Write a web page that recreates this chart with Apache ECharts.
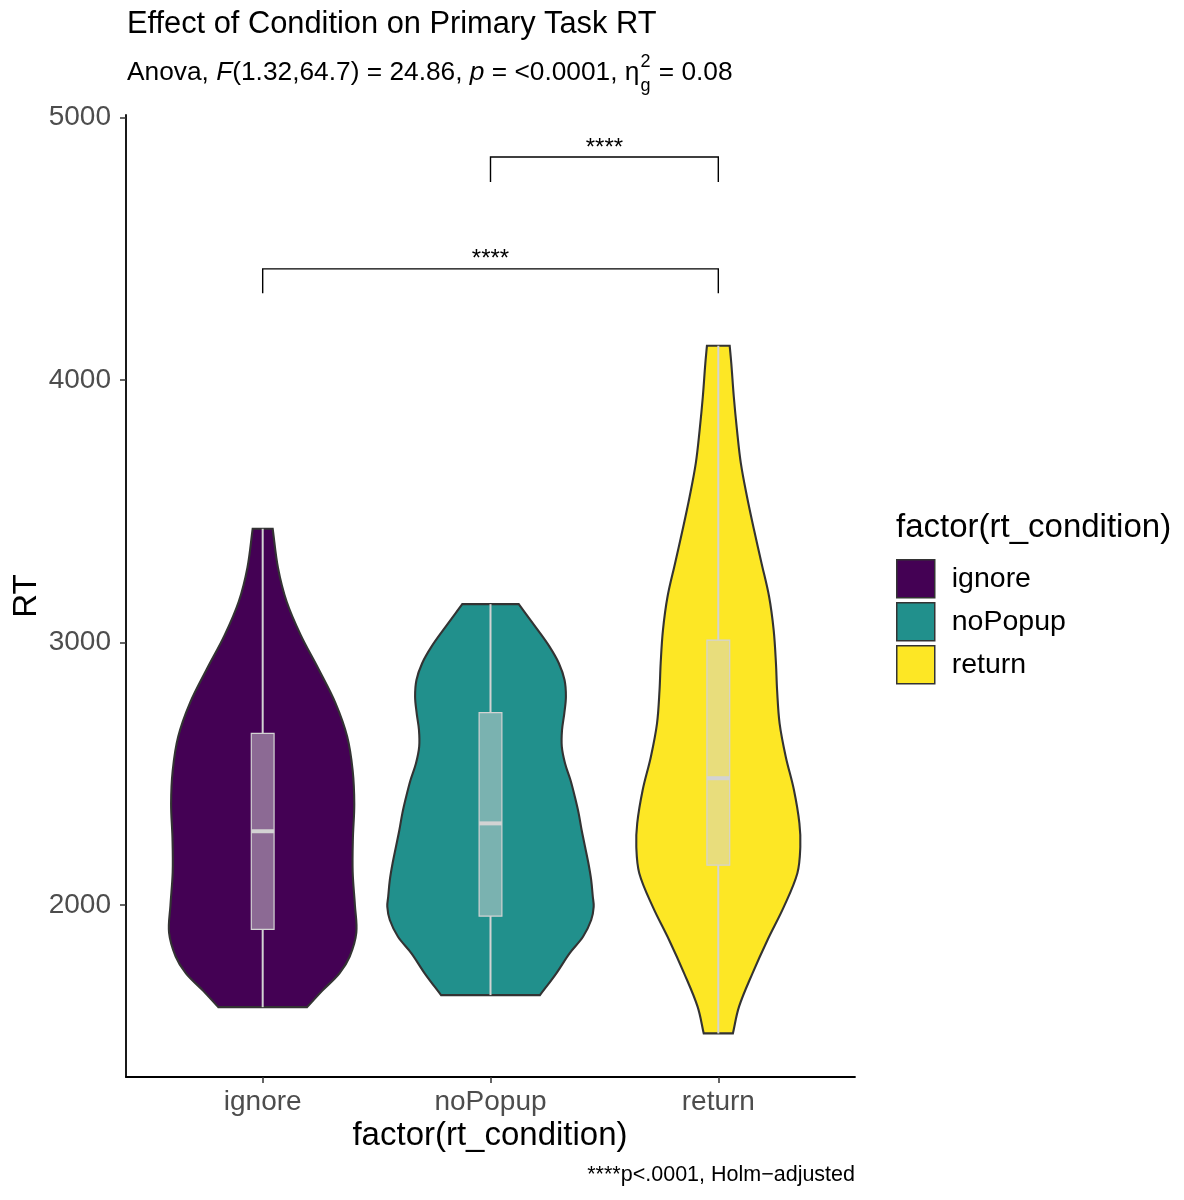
<!DOCTYPE html>
<html><head><meta charset="utf-8">
<script src="https://cdn.jsdelivr.net/npm/echarts@6/dist/echarts.min.js"></script>
<style>html,body{margin:0;padding:0;background:#fff}#c{width:1184px;height:1200px}</style>
</head><body><div id="c"></div>
<script>
// ---------------- data ----------------
const categories = ['ignore', 'noPopup', 'return'];
const fillColors = ['#440154', '#21908C', '#FDE725'];
const yTicks = [2000, 3000, 4000, 5000];

// violin outlines: RT value and half-width (in category units)
const ignoreRT = [3433, 3285, 3156, 3028, 2899, 2770, 2641, 2512, 2384, 2255, 2126, 1997, 1895, 1804, 1740, 1675, 1611];
const ignoreHalfWidth = [0.044, 0.067, 0.105, 0.167, 0.245, 0.319, 0.371, 0.395, 0.402, 0.396, 0.395, 0.405, 0.411, 0.382, 0.337, 0.263, 0.195];

const noPopupRT = [3146, 3047, 2984, 2921, 2857, 2793, 2730, 2667, 2603, 2540, 2476, 2413, 2349, 2286, 2222, 2158, 2095, 2032, 1994, 1943, 1879, 1816, 1740, 1657];
const noPopupHalfWidth = [0.124, 0.208, 0.259, 0.300, 0.325, 0.331, 0.324, 0.314, 0.313, 0.327, 0.351, 0.370, 0.387, 0.400, 0.415, 0.430, 0.442, 0.449, 0.453, 0.442, 0.406, 0.347, 0.289, 0.217];

const returnRT = [4130, 4063, 3936, 3809, 3682, 3555, 3428, 3301, 3174, 3047, 2921, 2819, 2692, 2565, 2438, 2311, 2222, 2121, 1994, 1867, 1740, 1613, 1511];
const returnHalfWidth = [0.050, 0.057, 0.068, 0.082, 0.099, 0.126, 0.157, 0.190, 0.223, 0.243, 0.253, 0.258, 0.269, 0.296, 0.332, 0.356, 0.360, 0.347, 0.288, 0.216, 0.150, 0.091, 0.064];

// boxplot stats: [min, q1, median, q3, max]
const ignoreBox = [1611, 1907, 2281, 2654, 3433];
const noPopupBox = [1657, 1958, 2311, 2733, 3146];
const returnBox = [1511, 2152, 2483, 3009, 4130];

// pairwise comparisons (Holm-adjusted)
const compFrom = ['ignore', 'noPopup'];
const compTo = ['return', 'return'];
const compBarY = [4423, 4849];
const compTipY = [4330, 4754];
const compLabel = ['****', '****'];

// ---------------- build ----------------
const FONT = '"Liberation Sans", Arial, Helvetica, sans-serif';
const violinRT = [ignoreRT, noPopupRT, returnRT];
const violinHW = [ignoreHalfWidth, noPopupHalfWidth, returnHalfWidth];
const boxes = [ignoreBox, noPopupBox, returnBox];

const chart = echarts.init(document.getElementById('c'), null, {renderer: 'canvas'});

function violinSeries(gi) {
  return {
    type: 'custom',
    name: categories[gi],
    itemStyle: {color: fillColors[gi], borderColor: '#333333', borderWidth: 1.5},
    data: [[gi + 1, violinRT[gi][0]]],
    z: 2,
    renderItem: function (params, api) {
      const x = gi + 1;
      const rt = violinRT[gi], hw = violinHW[gi];
      const right = rt.map((v, i) => api.coord([x + hw[i], v]));
      const left = rt.map((v, i) => api.coord([x - hw[i], v])).reverse();
      // duplicate flat-edge corners to keep them sharp when smoothing
      const pts = [];
      pts.push(left[left.length - 1]);
      right.forEach((p, i) => { pts.push(p); if (i === 0 || i === right.length - 1) pts.push(p); });
      left.forEach((p, i) => { pts.push(p); if (i === 0 || i === left.length - 1) pts.push(p); });
      return {
        type: 'polygon',
        shape: {points: pts, smooth: 0.35},
        style: {fill: fillColors[gi], stroke: '#333333', lineWidth: 2.1}
      };
    }
  };
}

const boxSeries = {
  type: 'custom',
  name: 'box',
  z: 3,
  data: boxes.map((b, i) => [i + 1].concat(b)),
  renderItem: function (params, api) {
    const x = api.value(0);
    const mn = api.coord([x, api.value(1)]);
    const q1 = api.coord([x, api.value(2)]);
    const md = api.coord([x, api.value(3)]);
    const q3 = api.coord([x, api.value(4)]);
    const mx = api.coord([x, api.value(5)]);
    const w = api.size([0.1, 0])[0];
    const grey = '#D3D3D3';
    return {
      type: 'group',
      children: [
        {type: 'line', shape: {x1: mn[0], y1: mn[1], x2: q1[0], y2: q1[1]}, style: {stroke: grey, lineWidth: 2}},
        {type: 'line', shape: {x1: q3[0], y1: q3[1], x2: mx[0], y2: mx[1]}, style: {stroke: grey, lineWidth: 2}},
        {type: 'rect', shape: {x: q3[0] - w / 2, y: q3[1], width: w, height: q1[1] - q3[1]},
          style: {fill: 'rgba(211,211,211,0.5)', stroke: grey, lineWidth: 1.2}},
        {type: 'line', shape: {x1: md[0] - w / 2, y1: md[1], x2: md[0] + w / 2, y2: md[1]}, style: {stroke: grey, lineWidth: 4}}
      ]
    };
  }
};

const bracketSeries = {
  type: 'custom',
  name: 'brackets',
  z: 4,
  data: compFrom.map((f, i) => [categories.indexOf(f) + 1, categories.indexOf(compTo[i]) + 1, compBarY[i], compTipY[i]]),
  renderItem: function (params, api) {
    const a = api.coord([api.value(0), api.value(2)]);
    const b = api.coord([api.value(1), api.value(2)]);
    const at = api.coord([api.value(0), api.value(3)]);
    const bt = api.coord([api.value(1), api.value(3)]);
    return {
      type: 'group',
      children: [
        {type: 'polyline', shape: {points: [at, a, b, bt]}, style: {stroke: '#000', lineWidth: 1.4, fill: null}},
        {type: 'text', x: (a[0] + b[0]) / 2, y: a[1] + 3,
          style: {text: compLabel[params.dataIndex], fill: '#000', font: '24px ' + FONT, align: 'center', verticalAlign: 'bottom'}}
      ]
    };
  }
};

// subtitle pieces measured to place the sub/superscript
const cv = document.createElement('canvas').getContext('2d');
function tw(str, font) { cv.font = font; return cv.measureText(str).width; }
const SUB = 26.3, SMALL = 18;
const fN = SUB + 'px ' + FONT, fI = 'italic ' + SUB + 'px ' + FONT, fS = SMALL + 'px ' + FONT;
const parts = [['Anova, ', fN], ['F', fI], ['(1.32,64.7) = 24.86, ', fN], ['p', fI], [' = <0.0001, \u03B7', fN]];
let wMain = 0; parts.forEach(p => wMain += tw(p[0], p[1]));
const subX = 127, subY = 73;
const supX = subX + wMain + 1;
const afterX = supX + Math.max(tw('2', fS), tw('g', fS)) + 1;

const graphics = [
  {type: 'text', x: 127, y: 25, style: {text: 'Effect of Condition on Primary Task RT', font: '30.8px ' + FONT, fill: '#000', verticalAlign: 'middle'}},
  {type: 'text', x: subX, y: subY, style: {
    text: '{a|Anova, }{i|F}{a|(1.32,64.7) = 24.86, }{i|p}{a| = <0.0001, \u03B7}',
    verticalAlign: 'middle',
    rich: {a: {font: fN, fill: '#000'}, i: {font: fI, fill: '#000'}}}},
  {type: 'text', x: supX, y: subY - 11, style: {text: '2', font: fS, fill: '#000', verticalAlign: 'middle'}},
  {type: 'text', x: supX, y: subY + 13, style: {text: 'g', font: fS, fill: '#000', verticalAlign: 'middle'}},
  {type: 'text', x: afterX, y: subY, style: {text: ' = 0.08', font: fN, fill: '#000', verticalAlign: 'middle'}},
  {type: 'text', x: 490, y: 1136, style: {text: 'factor(rt_condition)', font: '33px ' + FONT, fill: '#000', align: 'center', verticalAlign: 'middle'}},
  {type: 'text', x: 27, y: 596, rotation: Math.PI / 2, style: {text: 'RT', font: '33px ' + FONT, fill: '#000', align: 'center', verticalAlign: 'middle'}},
  {type: 'text', x: 855, y: 1175, style: {text: '****p<.0001, Holm\u2212adjusted', font: '21.5px ' + FONT, fill: '#000', align: 'right', verticalAlign: 'middle'}},
  {type: 'text', x: 896, y: 528, style: {text: 'factor(rt_condition)', font: '33px ' + FONT, fill: '#000', verticalAlign: 'middle'}}
];

const option = {
  backgroundColor: '#ffffff',
  animation: false,
  grid: {left: 126, right: 329, top: 115, bottom: 123, containLabel: false, outerBoundsMode: 'none'},
  xAxis: {
    type: 'value', min: 0.4, max: 3.6,
    axisLine: {show: true, onZero: false, lineStyle: {color: '#000', width: 1.8}},
    axisTick: {show: true, length: 6, customValues: [1, 2, 3], lineStyle: {color: '#333', width: 1.5}},
    axisLabel: {customValues: [1, 2, 3], formatter: v => categories[Math.round(v) - 1], color: '#4D4D4D', fontSize: 28, fontFamily: FONT, margin: 11},
    splitLine: {show: false}
  },
  yAxis: {
    type: 'value', min: 1345, max: 5009,
    axisLine: {show: true, onZero: false, lineStyle: {color: '#000', width: 1.8}},
    axisTick: {show: true, length: 6, customValues: yTicks, lineStyle: {color: '#333', width: 1.5}},
    axisLabel: {customValues: yTicks, formatter: v => String(v), color: '#4D4D4D', fontSize: 28, fontFamily: FONT, margin: 15},
    splitLine: {show: false}
  },
  legend: {
    data: categories,
    orient: 'vertical', left: 896, top: 559, padding: 0,
    itemWidth: 38, itemHeight: 38, itemGap: 3.5, icon: 'rect',
    itemStyle: {borderColor: '#333333', borderWidth: 1.5},
    textStyle: {fontSize: 28.5, fontFamily: FONT, color: '#000', padding: [0, 0, 0, 12]},
    selectedMode: false
  },
  graphic: graphics,
  series: [violinSeries(0), violinSeries(1), violinSeries(2), boxSeries, bracketSeries]
};
chart.setOption(option);
</script>
</body></html>
